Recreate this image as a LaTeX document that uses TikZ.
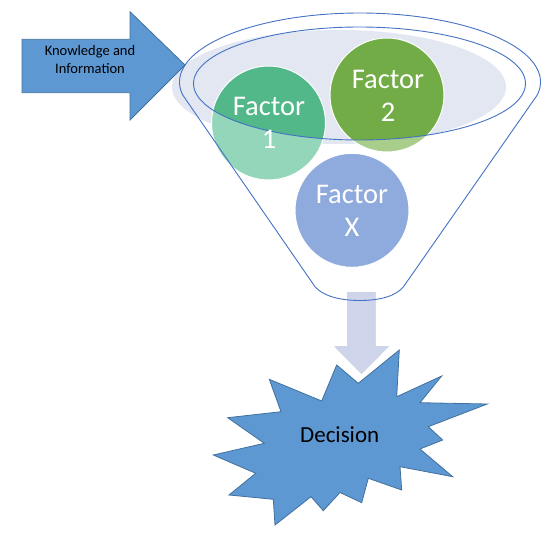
\documentclass[tikz,border=0pt]{standalone}
\usepackage{fontspec}
\setmainfont{Carlito}
\definecolor{officeblue}{RGB}{93,152,211}
\definecolor{officeedge}{RGB}{65,113,156}
\definecolor{funnelline}{RGB}{68,114,196}
\definecolor{funnelshade}{RGB}{227,231,242}
\definecolor{fonedark}{RGB}{82,183,137}
\definecolor{fonelight}{RGB}{148,214,185}
\definecolor{ftwodark}{RGB}{114,172,70}
\definecolor{ftwolight}{RGB}{169,205,138}
\definecolor{fxcol}{RGB}{143,170,220}
\definecolor{downcol}{RGB}{206,212,234}
\begin{document}
\begin{tikzpicture}[x=1pt,y=-1pt,
  blockshape/.style={fill=officeblue,draw=officeedge,line width=0.8pt,line join=miter},
  funnelstroke/.style={draw=funnelline,line width=0.9pt},
  circleedge/.style={draw=white,line width=1pt},
  factortext/.style={text=white,font=\fontsize{28.5}{33}\selectfont,align=center,inner sep=0pt},
  smalltext/.style={text=black,font=\fontsize{14.5}{18}\selectfont,align=center,inner sep=0pt},
  decisiontext/.style={text=black,font=\fontsize{23}{27}\selectfont,inner sep=0pt}]
\useasboundingbox (0,0) rectangle (558,533);

% shaded top of the funnel
\fill[funnelshade] (339,87) ellipse[x radius=167pt,y radius=57pt];

% factor circles (light part outside the inner rim)
\fill[fonelight] (268.5,123) circle[radius=57pt];
\fill[ftwolight] (387,95) circle[radius=57pt];
\begin{scope}
  \clip (359.5,83.5) ellipse[x radius=166pt,y radius=56.5pt];
  \fill[fonedark] (268.5,123) circle[radius=57pt];
  \fill[ftwodark] (387,95) circle[radius=57pt];
\end{scope}
\draw[circleedge] (268.5,123) circle[radius=57pt];
\draw[circleedge] (387,95) circle[radius=57pt];
\fill[fxcol] (352,210.3) circle[radius=57pt];
\draw[circleedge] (352,210.3) circle[radius=57pt];

% decision explosion
\draw[blockshape] (399.3,350) -- (396.7,396.7) -- (441.7,376) -- (420,402.7) -- (487.3,404)
  -- (428.3,426.7) -- (442.7,440) -- (420,449) -- (452.7,476.7) -- (400,466.7)
  -- (401.7,490) -- (368.3,478.3) -- (361.7,502.7) -- (340,492.5) -- (323.3,510.7)
  -- (311,496.7) -- (275,525) -- (273.3,499.3) -- (229,495) -- (255.7,473.3)
  -- (213.3,455) -- (264.3,443.3) -- (227.7,417.7) -- (281,411.7) -- (269.3,379.3)
  -- (321.7,401) -- (336.7,365) -- (358.3,383.3) -- cycle;

% down arrow
\draw[fill=downcol,draw=white,line width=1.5pt,line join=miter]
  (346,291) -- (376.5,291) -- (376.5,345) -- (391.7,345) -- (361.5,375.5)
  -- (331.5,345) -- (346,345) -- cycle;

% funnel outline and inner rim
\draw[funnelstroke] plot[domain=169.1:370.9,samples=150] ({360+180.5*cos(\x)},{82+69*sin(\x)})
  -- (403.5,286.7) .. controls (396,296) and (380,300.5) .. (360,300.5)
  .. controls (340,300.5) and (323,296) .. (315,286.7) -- cycle;
\draw[funnelstroke] (359.5,83.5) ellipse[x radius=166pt,y radius=56.5pt];

% input arrow
\draw[blockshape] (22,39.3) -- (130,39.3) -- (130,11.7) -- (185,65) -- (130,120)
  -- (130,92.7) -- (22,92.7) -- cycle;

% texts
\node[smalltext] (know) at (90,59.5) {Knowledge and\\Information};
\node[factortext] (f1) at (269,123.3) {Factor\\1};
\node[factortext] (f2) at (388,96.3) {Factor\\2};
\node[factortext] (fx) at (352,211.3) {Factor\\X};
\node[decisiontext,anchor=base] (dec) at (339.7,442.3) {Decision};
\end{tikzpicture}
\end{document}
